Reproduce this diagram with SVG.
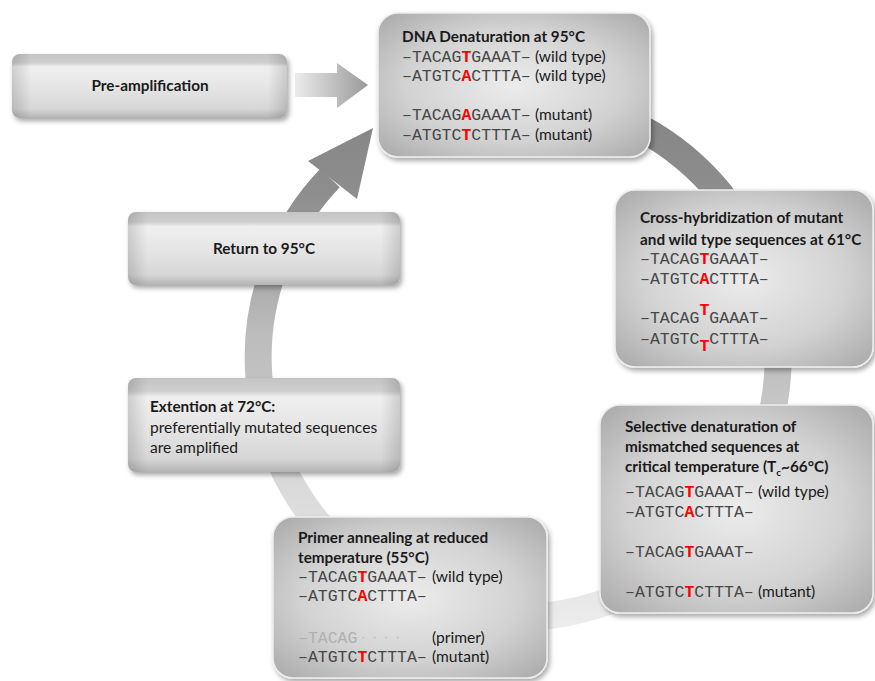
<svg xmlns="http://www.w3.org/2000/svg" width="875" height="681" viewBox="0 0 875 681">
<defs>
  <linearGradient id="ringGrad" gradientUnits="userSpaceOnUse" x1="0" y1="120" x2="0" y2="625">
    <stop offset="0" stop-color="#868686"/>
    <stop offset="0.15" stop-color="#8e8e8e"/>
    <stop offset="0.42" stop-color="#bcbcbc"/>
    <stop offset="0.52" stop-color="#c2c2c2"/>
    <stop offset="0.7" stop-color="#d8d8d8"/>
    <stop offset="1" stop-color="#ececec"/>
  </linearGradient>
  <linearGradient id="preArrow" x1="0" y1="0" x2="1" y2="0">
    <stop offset="0" stop-color="#ececec"/>
    <stop offset="1" stop-color="#999999"/>
  </linearGradient>
  <radialGradient id="bigBox" cx="0.5" cy="0.5" r="0.72">
    <stop offset="0" stop-color="#ececec"/>
    <stop offset="0.55" stop-color="#d2d2d2"/>
    <stop offset="1" stop-color="#a6a6a6"/>
  </radialGradient>
  <linearGradient id="bevelV" x1="0" y1="0" x2="0" y2="1">
    <stop offset="0" stop-color="#c4c4c4"/>
    <stop offset="0.14" stop-color="#cfcfcf"/>
    <stop offset="0.2" stop-color="#efefef"/>
    <stop offset="0.55" stop-color="#e4e4e4"/>
    <stop offset="0.86" stop-color="#d6d6d6"/>
    <stop offset="1" stop-color="#b4b4b4"/>
  </linearGradient>
  <linearGradient id="bevelH" x1="0" y1="0" x2="1" y2="0">
    <stop offset="0" stop-color="#000" stop-opacity="0.14"/>
    <stop offset="0.07" stop-color="#000" stop-opacity="0"/>
    <stop offset="0.93" stop-color="#000" stop-opacity="0"/>
    <stop offset="1" stop-color="#000" stop-opacity="0.14"/>
  </linearGradient>
  <filter id="shadow" x="-10%" y="-10%" width="125%" height="130%">
    <feDropShadow dx="2" dy="3" stdDeviation="2.5" flood-color="#000" flood-opacity="0.35"/>
  </filter>
  <style>
    .big { fill: url(#bigBox); stroke: #ededed; stroke-width: 1.5; filter: url(#shadow); }
    .bev { fill: url(#bevelV); filter: url(#shadow); }
    .bevh { fill: url(#bevelH); }
    .t { font-family: Lato, "Liberation Sans", sans-serif; font-size: 15.6px; fill: #1a1a1a; }
    .b { font-weight: bold; font-size: 15.3px; }
    .m { font-family: "Liberation Mono", "Courier New", monospace; font-size: 16.5px; fill: #474747; }
    .r { fill: #ff0000; font-weight: bold; }
    .g { fill: #b0b0b0; }
  </style>
</defs>

<g id="connectors">
  <path d="M 604 112 A 260 260 0 1 1 330 178" fill="none" stroke="url(#ringGrad)" stroke-width="27"/>
  <polygon points="308,161 373,128 357,199" fill="url(#ringGrad)"/>
  <polygon points="295,73 337,73 337,63 368,85 337,108 337,97 295,97" fill="url(#preArrow)"/>
</g>

<g id="pre-amplification">
  <rect class="bev" x="12" y="54" width="275" height="64" rx="8"/>
  <rect class="bevh" x="12" y="54" width="275" height="64" rx="8"/>
  <text class="t b" x="150" y="91" text-anchor="middle">Pre-amplification</text>
</g>

<g id="return">
  <rect class="bev" x="128" y="212" width="272" height="73" rx="8"/>
  <rect class="bevh" x="128" y="212" width="272" height="73" rx="8"/>
  <text class="t b" x="264" y="254" text-anchor="middle">Return to 95°C</text>
</g>

<g id="extention">
  <rect class="bev" x="128" y="378" width="272" height="94" rx="8"/>
  <rect class="bevh" x="128" y="378" width="272" height="94" rx="8"/>
  <text class="t b" x="150" y="412">Extention at 72°C:</text>
  <text class="t" x="150" y="433">preferentially mutated sequences</text>
  <text class="t" x="150" y="453">are amplified</text>
</g>

<g id="denaturation">
  <rect class="big" x="378" y="13" width="272" height="144" rx="20"/>
  <text class="t b" x="402" y="42">DNA Denaturation at 95°C</text>
  <text class="m" x="402" y="62">–TACAG<tspan class="r">T</tspan>GAAAT–</text>
  <text class="t" x="535" y="62">(wild type)</text>
  <text class="m" x="402" y="81">–ATGTC<tspan class="r">A</tspan>CTTTA–</text>
  <text class="t" x="535" y="81">(wild type)</text>
  <text class="m" x="402" y="120">–TACAG<tspan class="r">A</tspan>GAAAT–</text>
  <text class="t" x="535" y="120">(mutant)</text>
  <text class="m" x="402" y="140">–ATGTC<tspan class="r">T</tspan>CTTTA–</text>
  <text class="t" x="535" y="140">(mutant)</text>
</g>

<g id="cross-hybridization">
  <rect class="big" x="615" y="190" width="258" height="177" rx="20"/>
  <text class="t b" x="640" y="223">Cross-hybridization of mutant</text>
  <text class="t b" x="640" y="245">and wild type sequences at 61°C</text>
  <text class="m" x="640" y="264">–TACAG<tspan class="r">T</tspan>GAAAT–</text>
  <text class="m" x="640" y="284">–ATGTC<tspan class="r">A</tspan>CTTTA–</text>
  <text class="m" x="640" y="323">–TACAG<tspan class="r" dy="-8">T</tspan><tspan dy="8">GAAAT–</tspan></text>
  <text class="m" x="640" y="344">–ATGTC<tspan class="r" dy="7">T</tspan><tspan dy="-7">CTTTA–</tspan></text>
</g>

<g id="selective-denaturation">
  <rect class="big" x="600" y="405" width="273" height="208" rx="20"/>
  <text class="t b" x="625" y="432">Selective denaturation of</text>
  <text class="t b" x="625" y="452">mismatched sequences at</text>
  <text class="t b" x="625" y="472">critical temperature (T<tspan font-size="10" dy="4">c</tspan><tspan dy="-4">~66°C)</tspan></text>
  <text class="m" x="625" y="497">–TACAG<tspan class="r">T</tspan>GAAAT–</text>
  <text class="t" x="758" y="497">(wild type)</text>
  <text class="m" x="625" y="517">–ATGTC<tspan class="r">A</tspan>CTTTA–</text>
  <text class="m" x="625" y="557">–TACAG<tspan class="r">T</tspan>GAAAT–</text>
  <text class="m" x="625" y="597">–ATGTC<tspan class="r">T</tspan>CTTTA–</text>
  <text class="t" x="758" y="597">(mutant)</text>
</g>

<g id="primer-annealing">
  <rect class="big" x="273" y="517" width="274" height="161" rx="20"/>
  <text class="t b" x="298" y="543">Primer annealing at reduced</text>
  <text class="t b" x="298" y="563">temperature (55°C)</text>
  <text class="m" x="298" y="582">–TACAG<tspan class="r">T</tspan>GAAAT–</text>
  <text class="t" x="432" y="582">(wild type)</text>
  <text class="m" x="298" y="601">–ATGTC<tspan class="r">A</tspan>CTTTA–</text>
  <text class="m g" x="298" y="643">–TACAG<tspan font-size="9.5" dx="3" dy="-3">· · · ·</tspan></text>
  <text class="t" x="432" y="643">(primer)</text>
  <text class="m" x="298" y="662">–ATGTC<tspan class="r">T</tspan>CTTTA–</text>
  <text class="t" x="432" y="662">(mutant)</text>
</g>
</svg>
